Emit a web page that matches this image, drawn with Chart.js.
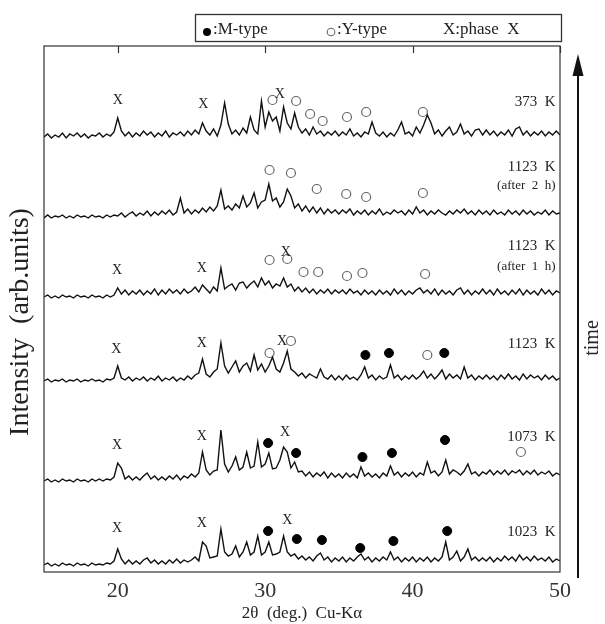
<!DOCTYPE html>
<html>
<head>
<meta charset="utf-8">
<script src="https://cdn.jsdelivr.net/npm/chart.js@4.4.1/dist/chart.umd.min.js"></script>
<style>
  html, body { margin: 0; padding: 0; background: #fff; }
  canvas { display: block; }
</style>
</head>
<body>
<canvas id="xrd" width="605" height="624"></canvas>
<script>
// 2θ scan 15–50 deg, one reading every 0.25 deg
const scanStart = 15;
const scanStep = 0.25;
const xTicks = [20, 30, 40, 50];

// vertical offset of each pattern (stacked plot)
const baselines = [433, 354, 274, 190, 90, 6];

const i373 = [
  2,5,1,4,2,6,1,5,3,6,2,5,1,4,3,6,2,5,3,7,
  21,8,3,7,2,6,3,8,4,7,2,6,3,8,2,6,4,7,3,8,
  4,9,5,16,8,4,10,3,14,36,15,5,9,4,11,6,22,9,5,38,
  12,27,18,22,8,32,16,10,26,12,6,10,4,12,5,8,3,7,4,8,
  3,7,4,10,3,6,2,7,5,17,6,3,7,2,6,3,9,17,5,7,
  3,12,6,14,24,16,5,9,3,8,12,4,7,15,5,8,3,9,10,4,
  9,4,8,3,7,4,9,3,10,12,4,8,3,7,4,8,3,7,4,8,
  4
];
const i1123after2h = [
  0,3,0,2,1,3,0,2,0,3,1,2,0,3,1,2,0,3,1,3,
  2,5,1,4,6,2,5,3,7,2,6,3,7,4,8,3,6,20,5,9,
  4,8,5,10,6,11,7,12,28,9,12,8,14,10,22,11,15,25,10,16,
  18,34,17,20,11,16,29,22,10,14,7,12,6,11,5,10,4,9,5,8,
  4,8,5,9,3,7,4,8,3,7,4,9,3,6,4,8,5,7,3,8,
  4,11,5,8,3,7,4,8,5,3,7,4,8,5,9,4,7,3,8,4,
  7,3,8,4,6,3,8,4,7,3,8,4,7,3,6,4,8,3,7,4,
  5
];
const i1123after1h = [
  1,3,0,2,0,3,1,2,0,3,1,2,0,3,1,2,0,3,1,3,
  10,4,8,3,7,4,8,3,7,4,9,3,8,4,9,5,8,4,9,5,
  7,11,6,13,9,5,11,7,30,9,12,14,8,15,16,10,14,17,11,20,
  13,17,10,14,12,20,11,14,7,11,6,10,5,9,4,8,5,9,4,8,
  5,8,4,9,5,7,3,8,4,7,3,8,4,7,3,9,4,8,3,7,
  4,8,10,5,8,4,9,3,8,4,7,3,8,10,4,8,3,7,4,9,
  4,8,3,9,4,7,3,8,4,9,3,8,4,7,3,9,4,8,3,7,
  5
];
const i1123 = [
  1,3,0,2,1,3,0,2,1,3,0,2,1,3,1,2,0,3,2,4,
  16,4,2,5,1,4,2,5,1,4,2,6,1,4,2,5,1,4,2,6,
  3,7,9,23,8,5,10,13,39,16,9,15,21,10,16,19,11,27,12,18,
  10,16,25,13,10,19,31,13,10,6,9,4,8,6,4,13,5,3,7,2,
  6,2,7,3,5,2,7,15,4,7,2,6,3,5,17,4,7,2,6,3,
  7,3,6,11,4,8,3,7,12,3,8,4,7,3,15,4,7,2,6,3,
  7,3,6,2,7,3,8,3,6,2,8,3,7,4,6,2,7,3,6,2,
  4
];
const i1073 = [
  1,3,0,2,0,3,1,2,0,3,1,2,0,3,1,3,1,3,2,5,
  19,14,3,6,2,5,2,6,9,3,6,2,5,2,6,3,7,2,6,4,
  8,5,9,30,12,7,11,12,52,18,10,16,25,12,15,30,14,16,40,15,
  18,29,13,14,22,35,30,14,20,10,11,6,10,5,9,6,10,4,9,5,
  8,4,9,5,8,4,15,6,9,5,8,4,9,6,16,7,10,5,9,6,
  10,5,9,7,20,9,11,6,10,22,8,12,10,7,11,18,8,10,6,10,
  8,12,7,11,8,12,7,11,9,12,7,11,8,12,7,10,8,11,6,9,
  7
];
const i1023 = [
  1,3,0,2,0,3,1,2,0,3,1,2,0,3,1,2,1,3,2,5,
  17,7,2,6,2,5,2,6,8,3,6,2,5,2,6,3,7,3,6,4,
  6,9,5,24,20,8,9,10,37,14,10,12,20,9,14,24,11,14,30,11,
  14,24,11,12,14,30,14,10,12,7,10,6,9,5,10,13,6,9,4,8,
  5,9,4,8,5,9,12,6,9,4,8,5,9,6,14,6,9,4,8,5,
  9,4,8,5,9,4,8,5,9,24,6,9,15,5,9,17,6,9,5,8,
  5,9,4,8,5,10,6,9,5,11,6,9,5,10,6,8,5,9,4,7,
  5
];
const patterns = [i373, i1123after2h, i1123after1h, i1123, i1073, i1023];

// peak markers (2θ, stacked height)
const mTypeX = [36.8, 38.4, 42.15, 30.2, 32.1, 36.6, 38.6, 42.2, 30.2, 32.15, 33.85, 36.45, 38.7, 42.35];
const mTypeY = [217, 219, 219, 129, 119, 115, 119, 132, 41, 33, 32, 24, 31, 41];
const yTypeX = [30.5, 32.1, 33.05, 33.9, 35.55, 36.85, 40.7,
                30.3, 31.75, 33.5, 35.5, 36.85, 40.7,
                30.3, 31.5, 32.6, 33.6, 35.55, 36.6, 40.85,
                30.3, 31.75, 41.0, 47.35];
const yTypeY = [472, 471, 458, 451, 455, 460, 460,
                402, 399, 383, 378, 375, 379,
                312, 313, 300, 300, 296, 299, 298,
                219, 231, 217, 120];
const phaseXx = [20.0, 25.8, 31.0, 19.95, 25.7, 31.4, 19.9, 25.7, 31.15, 19.95, 25.7, 31.35, 19.95, 25.7, 31.5];
const phaseXy = [472, 468, 478, 302, 304, 320, 223, 229, 231, 127, 136, 140, 44, 49, 52];

// sample labels on the right
const tempText = ['373  K', '1123  K', '(after  2  h)', '1123  K', '(after  1  h)', '1123  K', '1073  K', '1023  K'];
const tempY = [470, 405, 386, 326, 305, 228, 135, 40];
const tempSmall = [false, false, true, false, true, false, false, false];

const legendItems = [':M-type', ':Y-type', 'X:phase  X'];

const serif = '"Liberation Serif", "Times New Roman", serif';

const datasets = patterns.map((vals, k) => ({
  data: vals.map((v, i) => ({ x: scanStart + i * scanStep, y: v + baselines[k] })),
  borderColor: '#111',
  borderWidth: 1.4,
  pointRadius: 0,
  tension: 0,
  fill: false
}));

datasets.push({
  type: 'scatter',
  data: mTypeX.map((x, i) => ({ x: x, y: mTypeY[i] })),
  pointRadius: 4.5,
  pointBackgroundColor: '#000',
  pointBorderColor: '#000',
  showLine: false
});
datasets.push({
  type: 'scatter',
  data: yTypeX.map((x, i) => ({ x: x, y: yTypeY[i] })),
  pointRadius: 4.5,
  pointBackgroundColor: 'rgba(0,0,0,0)',
  pointBorderColor: '#666',
  pointBorderWidth: 1.2,
  showLine: false
});

const decor = {
  id: 'decor',
  afterDraw(chart) {
    const ctx = chart.ctx;
    const a = chart.chartArea;
    const xs = chart.scales.x, ys = chart.scales.y;
    ctx.save();

    // frame + inward ticks on top
    ctx.strokeStyle = '#333';
    ctx.lineWidth = 1.2;
    ctx.strokeRect(a.left, a.top, a.right - a.left, a.bottom - a.top);
    xTicks.forEach(v => {
      const px = Math.round(xs.getPixelForValue(v)) + 0.5;
      ctx.beginPath();
      ctx.moveTo(px, a.top);
      ctx.lineTo(px, a.top + 7);
      ctx.stroke();
    });

    // phase X labels
    ctx.fillStyle = '#222';
    ctx.font = '14px ' + serif;
    ctx.textAlign = 'center';
    ctx.textBaseline = 'middle';
    phaseXx.forEach((x, i) => {
      ctx.fillText('X', xs.getPixelForValue(x), ys.getPixelForValue(phaseXy[i]));
    });

    // temperatures
    ctx.textAlign = 'right';
    tempText.forEach((t, i) => {
      ctx.font = (tempSmall[i] ? '13px ' : '15px ') + serif;
      ctx.fillText(t, xs.getPixelForValue(49.7), ys.getPixelForValue(tempY[i]));
    });

    // legend box
    ctx.lineWidth = 1.3;
    ctx.strokeRect(195.5, 14.5, 366, 27);
    ctx.font = '17px ' + serif;
    ctx.textAlign = 'left';
    ctx.textBaseline = 'alphabetic';
    ctx.fillStyle = '#000';
    ctx.beginPath();
    ctx.arc(207, 32, 4, 0, Math.PI * 2);
    ctx.fill();
    ctx.fillStyle = '#222';
    ctx.fillText(legendItems[0], 213, 34);
    ctx.strokeStyle = '#666';
    ctx.lineWidth = 1.1;
    ctx.beginPath();
    ctx.arc(331, 32, 3.8, 0, Math.PI * 2);
    ctx.stroke();
    ctx.fillText(legendItems[1], 337, 34);
    ctx.fillText(legendItems[2], 443, 34);

    // y title
    ctx.save();
    ctx.translate(21, 322);
    ctx.rotate(-Math.PI / 2);
    ctx.textAlign = 'center';
    ctx.textBaseline = 'middle';
    ctx.font = '28px ' + serif;
    ctx.fillText('Intensity  (arb.units)', 0, 0);
    ctx.restore();

    // time arrow
    ctx.strokeStyle = '#111';
    ctx.lineWidth = 2;
    ctx.beginPath();
    ctx.moveTo(578, 578);
    ctx.lineTo(578, 70);
    ctx.stroke();
    ctx.fillStyle = '#111';
    ctx.beginPath();
    ctx.moveTo(578, 54);
    ctx.lineTo(572.5, 76);
    ctx.lineTo(583.5, 76);
    ctx.closePath();
    ctx.fill();
    ctx.save();
    ctx.translate(593, 338);
    ctx.rotate(-Math.PI / 2);
    ctx.textAlign = 'center';
    ctx.textBaseline = 'middle';
    ctx.font = '20px ' + serif;
    ctx.fillStyle = '#222';
    ctx.fillText('time', 0, 0);
    ctx.restore();

    ctx.restore();
  }
};

new Chart(document.getElementById('xrd'), {
  type: 'line',
  data: { datasets: datasets },
  options: {
    responsive: false,
    animation: false,
    layout: { padding: { left: 44, right: 45, top: 46, bottom: 0 } },
    plugins: { legend: { display: false }, tooltip: { enabled: false } },
    scales: {
      x: {
        type: 'linear',
        min: 15,
        max: 50,
        afterBuildTicks: s => { s.ticks = xTicks.map(v => ({ value: v })); },
        afterFit: s => { s.height = 52; },
        grid: { display: false },
        border: { display: false },
        ticks: {
          font: { family: serif, size: 22 },
          color: '#333',
          padding: -2,
          maxRotation: 0
        },
        title: {
          display: true,
          text: '2θ  (deg.)  Cu-Kα',
          font: { family: serif, size: 17 },
          color: '#222',
          padding: { top: 0, bottom: 0 }
        }
      },
      y: {
        type: 'linear',
        display: false,
        min: 0,
        max: 526
      }
    }
  },
  plugins: [decor]
});
</script>
</body>
</html>
